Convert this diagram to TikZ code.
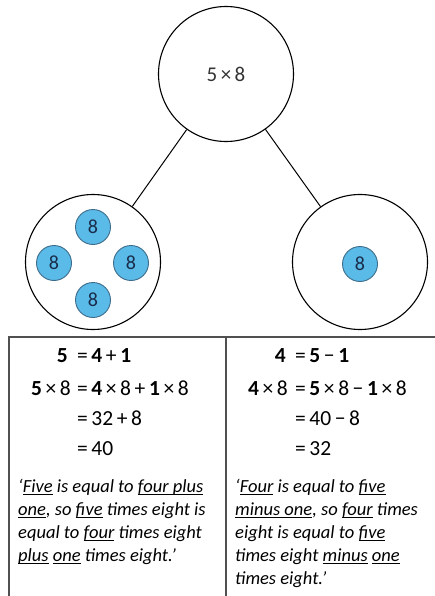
\documentclass[tikz,border=0pt]{standalone}
\usepackage{fontspec}
\setmainfont{Carlito}
\newsavebox\myulbox
\newcommand\myul[1]{\sbox\myulbox{#1}\rlap{\rule[-2.4pt]{\wd\myulbox}{0.9pt}}\usebox\myulbox}
\definecolor{chipfill}{RGB}{90,186,232}
\definecolor{chipline}{RGB}{62,108,138}
\definecolor{chiptext}{RGB}{25,45,75}
\definecolor{tabline}{RGB}{80,80,80}
\begin{document}
\begin{tikzpicture}[x=1pt,y=-1pt,
  bigc/.style={circle,draw=black,line width=1.1pt,minimum size=135pt,inner sep=0pt,font=\fontsize{21}{24}\selectfont,text=black!80},
  chip/.style={circle,draw=chipline,line width=0.9pt,fill=chipfill,minimum size=35pt,inner sep=0pt,text=chiptext,font=\fontsize{20}{22}\selectfont},
  conn/.style={draw=black,line width=1pt},
  tab/.style={draw=tabline,line width=1.5pt},
  eqL/.style={anchor=base east,inner sep=0pt,font=\fontsize{21.5}{24}\selectfont},
  eqR/.style={anchor=base west,inner sep=0pt,font=\fontsize{21.5}{24}\selectfont},
  txt/.style={anchor=base west,inner sep=0pt,font=\fontsize{18.5}{22}\itshape}]
\useasboundingbox (0,0) rectangle (435,596);
% circles
\node[bigc] (top) at (226,74) {5\,×\,8};
\node[bigc] (left) at (93,262) {};
\node[bigc] (right) at (360,262) {};
\draw[conn] (top) -- (left);
\draw[conn] (top) -- (right);
\node[chip] (c1) at (93,227) {8};
\node[chip] (c2) at (54,263) {8};
\node[chip] (c3) at (131,263) {8};
\node[chip] (c4) at (93,300) {8};
\node[chip] (c5) at (360,264) {8};
% table
\coordinate (tl) at (9,337);
\coordinate (tr) at (435,337);
\coordinate (bl) at (9,596);
\coordinate (tm) at (226,337);
\coordinate (bm) at (226,596);
\draw[tab] (tr) -- (tl) -- (bl);
\draw[tab] (tm) -- (bm);
% left equations
\node[eqL] (la1) at (68,362) {\textbf{5}};
\node[eqR] (lb1) at (77,362) {=\,\textbf{4}\,+\,\textbf{1}};
\node[eqL] (la2) at (71,395) {\textbf{5}\,×\,8};
\node[eqR] (lb2) at (77,395) {=\,\textbf{4}\,×\,8\,+\,\textbf{1}\,×\,8};
\node[eqR] (lb3) at (77,425) {=\,32\,+\,8};
\node[eqR] (lb4) at (77,455) {=\,40};
% right equations
\node[eqL] (ra1) at (286,362) {\textbf{4}};
\node[eqR] (rb1) at (295,362) {=\,\textbf{5}\,−\,\textbf{1}};
\node[eqL] (ra2) at (288,395) {\textbf{4}\,×\,8};
\node[eqR] (rb2) at (295,395) {=\,\textbf{5}\,×\,8\,−\,\textbf{1}\,×\,8};
\node[eqR] (rb3) at (295,425) {=\,40\,−\,8};
\node[eqR] (rb4) at (295,455) {=\,32};
% left text
\node[txt] (lt1) at (18,492) {‘\myul{Five} is equal to \myul{four plus}};
\node[txt] (lt2) at (18,515) {\myul{one}, so \myul{five} times eight is};
\node[txt] (lt3) at (18,538) {equal to \myul{four} times eight};
\node[txt] (lt4) at (18,561) {\myul{plus} \myul{one} times eight.’};
% right text
\node[txt] (rt1) at (235,492) {‘\myul{Four} is equal to \myul{five}};
\node[txt] (rt2) at (235,515) {\myul{minus one}, so \myul{four} times};
\node[txt] (rt3) at (235,538) {eight is equal to \myul{five}};
\node[txt] (rt4) at (235,561) {times eight \myul{minus} \myul{one}};
\node[txt] (rt5) at (235,584) {times eight.’};
\end{tikzpicture}
\end{document}
